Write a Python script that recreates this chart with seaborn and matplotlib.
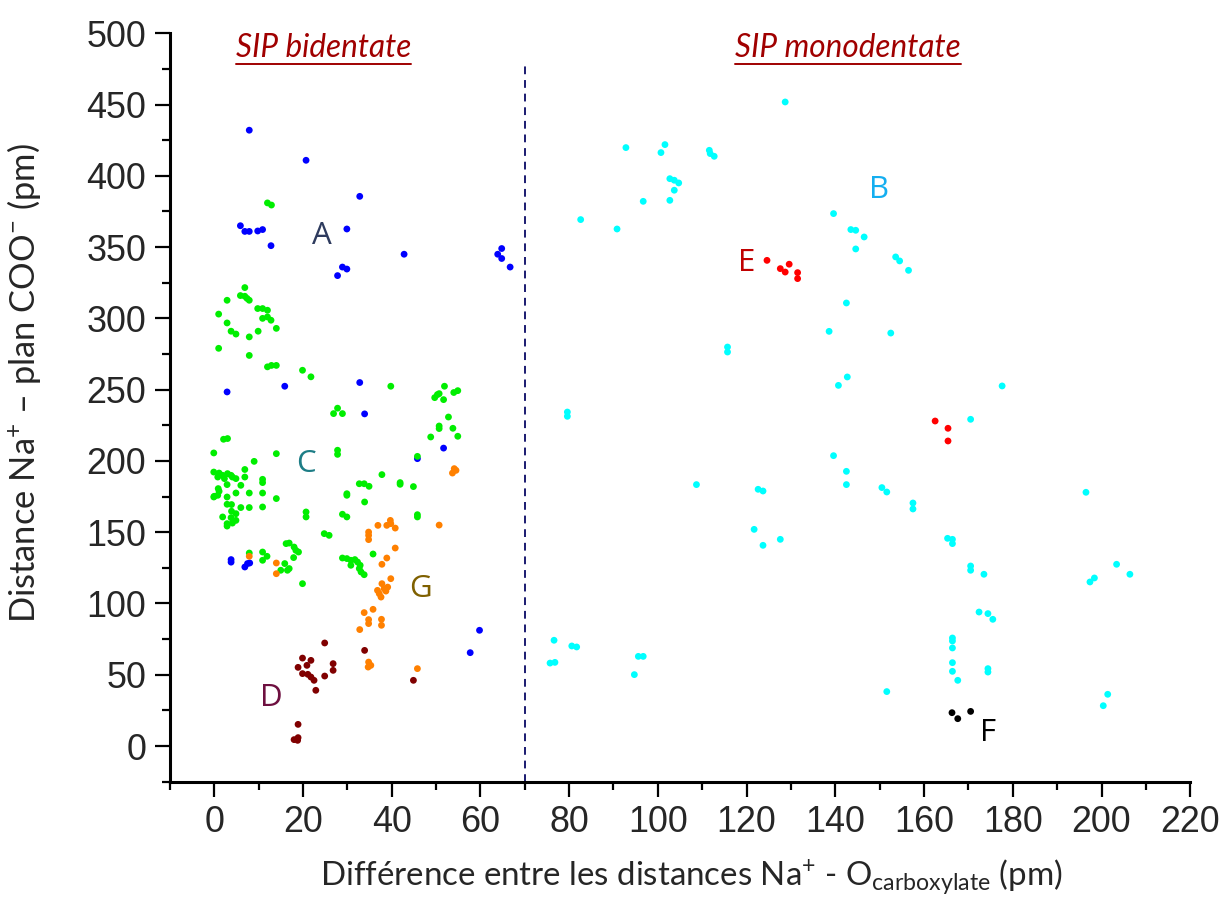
import numpy as np
import pandas as pd
import matplotlib
matplotlib.use("Agg")
import matplotlib.pyplot as plt
from matplotlib.lines import Line2D
from matplotlib.ticker import MultipleLocator
import seaborn as sns

# ---------------- data ----------------
A_x = [7.9, 20.7, 32.8, 5.9, 6.9, 7.9, 9.8, 10.9, 12.8, 29.9, 42.8, 27.8, 28.9, 29.9,
       64.8, 63.9, 64.8, 66.7, 2.9, 15.9, 32.8, 33.9, 51.7, 45.8, 3.8, 3.8, 6.9, 7.5, 8.0,
       59.8, 57.7]
A_y = [432, 410.9, 385.6, 365, 361, 361, 361.3, 362.3, 351, 362.7, 345, 330, 336, 334.6,
       349, 345, 342, 336, 248.4, 252.4, 255, 233, 209, 201.6, 129, 130.8, 125.6, 128, 128.4,
       81.2, 65.5]

C_x = [12.0, 12.9, 6.9, 5.9, 6.9, 7.9, 7.4, 2.9, 1.0, 9.8, 10.9, 12.0, 10.9, 12.0, 12.8,
       14.0, 2.9, 3.8, 4.9, 9.9, 7.9, 1.0, 7.9, 12.0, 12.9, 14.0, 19.9, 21.8,
       39.8, 27.8, 26.9, 28.9, 51.9, 50.3, 51.7, 49.7, 50.7, 54.0, 54.9, 52.8, 50.7, 50.7,
       53.8, 48.8, 54.9, 45.8, 2.1, 3.0, -0.1, 14.0, 27.8, 27.8, 9.0, 6.9,
       -0.1, 1.1, 1.9, 3.0, 3.8, 4.9, 0.8, 2.3, 4.1, 6.9, 2.9, 6.0, 10.9, 10.9, 0.9, 1.1,
       0.0, 0.8, -0.1, 2.9, 4.9, 7.9, 10.9, 14.0, 2.9, 3.9, 6.0, 7.9, 10.9, 3.9, 4.9, 1.9,
       3.8, 4.9, 4.1, 2.9, 2.9, 20.7, 20.7, 37.8, 32.7, 33.8, 34.9, 29.9, 29.9, 41.9, 41.9,
       44.9, 33.9, 28.9, 29.9, 45.8, 45.8, 24.8, 25.9, 16.2, 16.9, 18.0, 18.4, 19.0, 17.9,
       15.9, 16.9, 15.0, 16.5, 7.9, 10.9, 11.9, 10.9, 19.9, 35.8, 28.9, 29.9, 30.8, 31.7,
       32.3, 32.9, 32.7, 33.1, 33.8, 30.8]
C_y = [381, 379.5, 321.6, 316, 315.5, 312.7, 314, 312.7, 303, 306.9, 306.9, 305.7, 300, 301,
       298.7, 293, 296.8, 291, 289, 291, 287, 279, 274, 266, 267, 267, 263.6, 259,
       252.4, 237, 233.2, 233.2, 252.4, 246.5, 243, 244.4, 247.2, 248, 249.3, 230.8, 224.5,
       222.7, 222.9, 216.8, 217.3, 203.2, 215.2, 215.7, 205.6, 205.1, 207.5, 204.6, 199.7, 194,
       192.2, 191.5, 189.9, 191.1, 189.9, 187.6, 188.7, 187.6, 188.7, 188.7, 183.4, 182.9,
       187.1, 184.8, 180.6, 178.7, 175.2, 175.9, 174.7, 174.7, 177.5, 177.5, 177.5, 173.6,
       169.6, 169.4, 167.3, 167.3, 167.7, 164.7, 163, 160.7, 160.2, 158.3, 156.4, 156, 154.3,
       164.2, 160.7, 190.4, 184, 184, 182.2, 177, 175.9, 184.8, 183.6, 182, 171.2, 162.6,
       160.7, 162.3, 160.7, 149, 147.8, 142, 142.4, 139.6, 137.3, 136.1, 132.2, 128, 124.5,
       123.3, 123.3, 135.4, 136.1, 133.1, 130.3, 113.9, 134.7, 131.9, 131.5, 130.3, 130.8,
       129.1, 126.8, 124.5, 122.1, 120.2, 126.8]

G_x = [54.1, 54.5, 53.7, 36.9, 39.7, 39.8, 38.9, 40.8, 50.7, 34.8, 34.8, 34.8, 40.8, 38.9,
       37.8, 14.0, 14.0, 7.9, 37.8, 39.8, 36.8, 38.3, 37.2, 39.1, 37.6, 38.7, 33.8, 35.8,
       34.8, 34.8, 37.7, 37.7, 32.8, 34.8, 35.3, 34.7, 45.8]
G_y = [194.6, 193.4, 191.5, 154.8, 158.3, 156, 154.8, 152.9, 155, 150.1, 147.8, 144.8, 138.9,
       131.9, 127.5, 128.4, 120.9, 133.1, 113.9, 117.4, 109.2, 110.4, 106.9, 111.5, 104.5,
       108.7, 93.6, 95.9, 88.7, 85.9, 88.9, 84.7, 81.7, 58.9, 56.6, 55.4, 54.3]

D_x = [24.9, 33.9, 19.9, 21.8, 20.9, 18.9, 19.9, 21.1, 21.8, 22.5, 24.9, 22.9, 26.8, 26.8,
       44.9, 18.9, 18.0, 18.9, 18.8]
D_y = [72.3, 67.1, 61.7, 60.1, 56.6, 55.2, 50.8, 50.3, 48.4, 46.1, 49.1, 39.1, 57.8, 53.1,
       46.1, 15.2, 4.5, 5.9, 4.0]

B_x = [128.7, 92.8, 101.6, 100.7, 111.6, 112.7, 111.8, 102.7, 103.7, 104.7, 103.7, 96.7,
       102.7, 82.6, 90.8, 139.6, 143.5, 144.6, 146.5, 144.6, 153.6, 154.5, 156.5, 142.5,
       138.6, 152.5, 115.7, 115.7, 142.7, 140.7, 79.6, 79.6, 139.6, 142.5, 142.5, 108.7,
       122.6, 123.7, 150.5, 151.6, 157.5, 157.5, 121.7, 127.6, 123.7, 76.6, 80.6, 81.7,
       75.7, 76.8, 95.6, 96.7, 94.7, 151.6, 177.6, 170.5, 196.5, 165.3, 166.4, 166.4,
       170.5, 170.5, 173.5, 203.4, 198.4, 197.4, 206.4, 172.4, 174.4, 175.5, 166.4, 166.4,
       166.4, 166.4, 166.4, 167.6, 174.4, 174.4, 201.4, 200.4]
B_y = [451.8, 419.8, 421.9, 416.3, 417.9, 413.7, 415.6, 398, 396.9, 395, 389.9, 382.1,
       382.8, 369.3, 362.7, 373.5, 362.3, 361.8, 357.1, 348.7, 343.1, 340.3, 333.7, 310.8,
       290.9, 289.7, 279.9, 276.4, 258.9, 253, 234.3, 231.3, 203.7, 192.7, 183.4, 183.4,
       180.1, 178.9, 181.3, 178.2, 170.5, 166.3, 152, 145, 140.8, 74.2, 70.2, 69.5,
       58.2, 58.7, 62.9, 62.9, 50.1, 38.2, 252.6, 229.2, 178, 145.7, 145, 142,
       126.3, 123.3, 120.5, 127.5, 117.9, 115.1, 120.5, 94, 92.9, 88.9, 75.8, 73.7,
       68.8, 58.5, 52.4, 46.1, 54.3, 51.9, 36.3, 28.3]

E_x = [124.6, 127.6, 129.6, 128.7, 131.5, 131.5, 162.5, 165.4, 165.4]
E_y = [340.7, 334.9, 338, 332.5, 332.1, 327.9, 228, 222.9, 214]

F_x = [166.3, 167.6, 170.5]
F_y = [23.4, 19.2, 24.3]

groups = ["A", "C", "G", "D", "B", "E", "F"]
group_x = [A_x, C_x, G_x, D_x, B_x, E_x, F_x]
group_y = [A_y, C_y, G_y, D_y, B_y, E_y, F_y]
point_colors = {"A": "#0000ff", "C": "#00ee00", "G": "#ff8000", "D": "#800000",
                "B": "#00ffff", "E": "#ff0000", "F": "#000000"}

label_names = ["A", "B", "C", "D", "E", "F", "G"]
label_x = [24.3, 149.8, 20.7, 12.8, 120.0, 174.4, 46.6]
label_y = [358, 390, 198, 34, 339, 9, 110]
label_colors = ["#2e3b5e", "#14aef0", "#1d7d86", "#6e1040", "#c00000", "#000000", "#7f6000"]

regions = ["SIP bidentate", "SIP monodentate"]
region_x = [24.6, 142.8]
region_y = [489.5, 489.5]
separator_x = 70
separator_top = 477

x_ticks = list(range(0, 221, 20))
y_ticks = list(range(0, 501, 50))

# ---------------- build frame ----------------
rows = []
for g, xs, ys in zip(groups, group_x, group_y):
    for xv, yv in zip(xs, ys):
        rows.append((g, xv, yv))
df = pd.DataFrame(rows, columns=["group", "x", "y"])

# ---------------- plot ----------------
sns.set_style("ticks")
plt.rcParams["font.family"] = ["Liberation Sans", "DejaVu Sans"]
plt.rcParams["mathtext.fontset"] = "custom"
plt.rcParams["mathtext.rm"] = "Lato"
plt.rcParams["mathtext.it"] = "Lato:italic"
plt.rcParams["mathtext.bf"] = "Lato:bold"

fig = plt.figure(figsize=(12.22, 8.99), dpi=100)
ax = fig.add_axes([0.139, 0.1305, 0.974 - 0.139, 0.963 - 0.1305])

sns.scatterplot(data=df, x="x", y="y", hue="group", palette=point_colors,
                s=24, linewidth=0, legend=False, ax=ax, zorder=3)

ax.set_xlim(-10, 220)
ax.set_ylim(-25, 500)
ax.set_xticks(x_ticks)
ax.set_yticks(y_ticks)
ax.xaxis.set_minor_locator(MultipleLocator(10))
ax.yaxis.set_minor_locator(MultipleLocator(25))
ax.tick_params(axis="both", which="major", length=11, width=1.6, labelsize=25.8,
               direction="out", color="black", pad=6)
ax.tick_params(axis="both", which="minor", length=6, width=1.6, direction="out", color="black")
for side in ["top", "right"]:
    ax.spines[side].set_visible(False)
for side in ["left", "bottom"]:
    ax.spines[side].set_linewidth(2.2)
    ax.spines[side].set_color("black")

ax.set_xlabel("Différence entre les distances Na$^{+}$ - O$_{\\mathrm{carboxylate}}$ (pm)",
              fontsize=23.8, family="Lato")
ax.set_ylabel("Distance Na$^{+}$ – plan COO$^{-}$ (pm)", fontsize=24.8, family="Lato")
ax.xaxis.set_label_coords(0.511, -0.101)
ax.yaxis.set_label_coords(-0.1245, 0.532)

ax.axvline(separator_x, ymin=0, ymax=(separator_top + 25) / 525, color="#1a1a70",
           linestyle=(0, (4, 3)), linewidth=1.4, zorder=2)

for name, lx, ly, c in zip(label_names, label_x, label_y, label_colors):
    ax.text(lx, ly, name, color=c, fontsize=22.5, family="Open Sans",
            ha="center", va="center", zorder=4)

region_texts = []
for name, rx, ry in zip(regions, region_x, region_y):
    t = ax.text(rx, ry, name, color="#a00000", fontsize=22.7, family="Lato", style="italic",
                ha="center", va="center")
    region_texts.append(t)

fig.canvas.draw()
renderer = fig.canvas.get_renderer()
inv = fig.transFigure.inverted()
for t in region_texts:
    bb = t.get_window_extent(renderer=renderer)
    (x0, y0) = inv.transform((bb.x0, bb.y0 - 1))
    (x1, _) = inv.transform((bb.x1, bb.y0 - 1))
    fig.add_artist(Line2D([x0, x1], [y0, y0], transform=fig.transFigure,
                          color="#a00000", linewidth=1.4))

fig.savefig("out.png", dpi=100)
